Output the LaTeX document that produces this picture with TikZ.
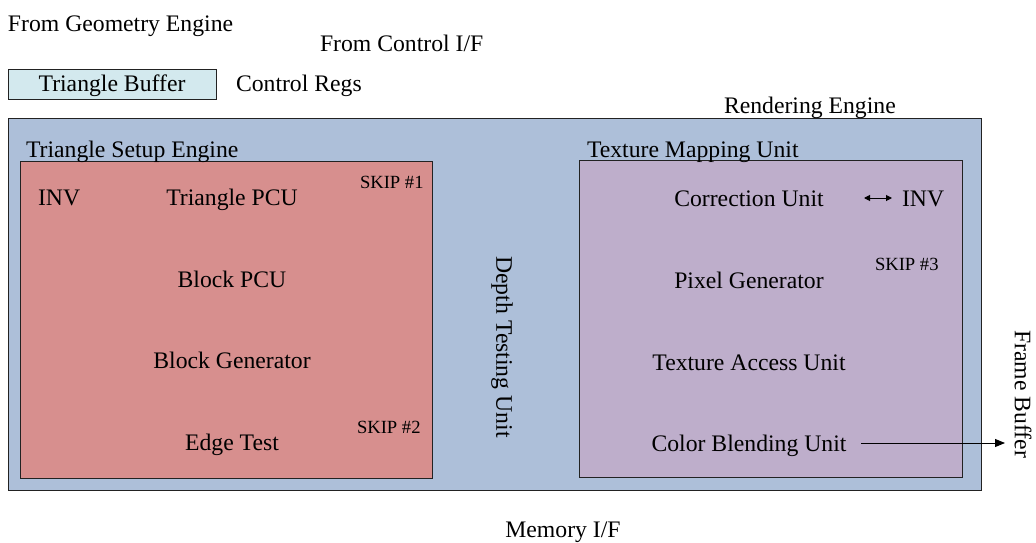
\documentclass[tikz,border=0pt]{standalone}
\usepackage{fontspec}
\setmainfont{Liberation Serif}
\usetikzlibrary{arrows.meta}
\definecolor{renderfill}{HTML}{ADBFD9}
\definecolor{setupfill}{HTML}{D78F8E}
\definecolor{texfill}{HTML}{BEAECB}
\definecolor{buffill}{HTML}{D3E9EE}
\definecolor{edge}{HTML}{222222}
\tikzset{
  box/.style={draw=edge, line width=1pt, inner sep=0pt, outer sep=0pt},
  lbl/.style={font=\fontsize{23.7}{26}\selectfont, inner sep=0pt, outer sep=0pt},
  small/.style={font=\fontsize{18.6}{20}\selectfont, inner sep=0pt, outer sep=0pt},
  arr/.style={line width=1pt, draw=black},
}
\begin{document}
\begin{tikzpicture}[x=1pt,y=-1pt]
\useasboundingbox (0,0) rectangle (1036,543);
% boxes
\node[box, fill=renderfill, minimum width=973pt, minimum height=372pt, anchor=north west] (render) at (8,118) {};
\node[box, fill=setupfill, minimum width=412pt, minimum height=317pt, anchor=north west] (setup) at (20,161) {};
\node[box, fill=texfill, minimum width=383pt, minimum height=317pt, anchor=north west] (tmu) at (579,160) {};
\node[box, fill=buffill, minimum width=208pt, minimum height=29pt, anchor=north west] (tbuf) at (8,70) {};
% top labels
\node[lbl, anchor=base west] (fge) at (8,32) {From Geometry Engine};
\node[lbl, anchor=base west] (fci) at (320,52) {From Control I/F};
\node[lbl, anchor=base] (tbuftext) at (112,92) {Triangle Buffer};
\node[lbl, anchor=base west] (creg) at (236,92) {Control Regs};
\node[lbl, anchor=base west] (reng) at (724,113) {Rendering Engine};
\node[lbl, anchor=base west] (tselbl) at (26,157) {Triangle Setup Engine};
\node[lbl, anchor=base west] (tmulbl) at (587,157) {Texture Mapping Unit};
% setup engine contents
\node[lbl, anchor=base west] (inv1) at (38,205) {INV};
\node[lbl, anchor=base] (tpcu) at (232,205) {Triangle PCU};
\node[small, anchor=base west] (skip1) at (360,188) {SKIP \#1};
\node[lbl, anchor=base] (bpcu) at (232,287) {Block PCU};
\node[lbl, anchor=base] (bgen) at (232,368) {Block Generator};
\node[lbl, anchor=base] (etest) at (232,450) {Edge Test};
\node[small, anchor=base west] (skip2) at (357,433) {SKIP \#2};
% depth testing
\node[lbl, rotate=-90] (depth) at (502,347) {Depth Testing Unit};
% texture mapping contents
\node[lbl, anchor=base] (corr) at (749,206) {Correction Unit};
\node[lbl, anchor=base west] (inv2) at (902,206) {INV};
\node[small, anchor=base west] (skip3) at (875,270) {SKIP \#3};
\node[lbl, anchor=base] (pgen) at (749,288) {Pixel Generator};
\node[lbl, anchor=base] (tau) at (749,370) {Texture Access Unit};
\node[lbl, anchor=base] (cbu) at (749,451) {Color Blending Unit};
% outside labels
\node[lbl, rotate=-90] (fbuf) at (1023,394) {Frame Buffer};
\node[lbl, anchor=base] (mem) at (563,537) {Memory I/F};
% connectors
\coordinate (fbend) at (1005,443);
\draw[arr, -{Triangle[length=10pt,width=8pt]}] ([xshift=15pt]cbu.east |- fbend) -- (fbend);
\coordinate (invarr) at (864,198);
\coordinate (invend) at ([xshift=-10pt]inv2.west);
\draw[arr, {Triangle[length=6pt,width=6pt]}-{Triangle[length=6pt,width=6pt]}] (invarr) -- (invend |- invarr);
\end{tikzpicture}
\end{document}
